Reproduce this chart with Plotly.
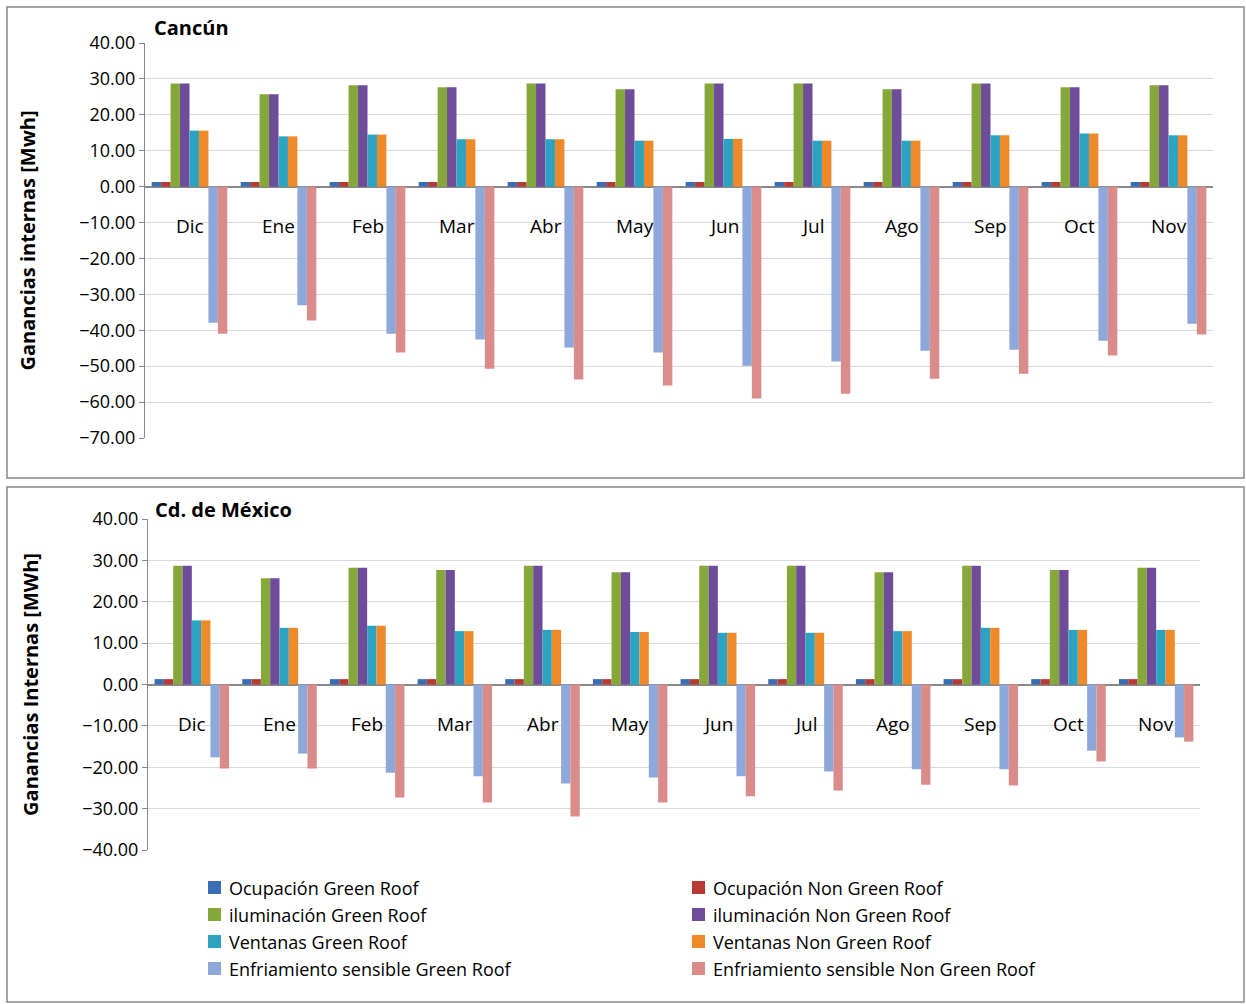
import plotly.graph_objects as go

months = ["Dic","Ene","Feb","Mar","Abr","May","Jun","Jul","Ago","Sep","Oct","Nov"]
series_names = ["Ocupación Green Roof","Ocupación Non Green Roof","iluminación Green Roof","iluminación Non Green Roof",
                "Ventanas Green Roof","Ventanas Non Green Roof","Enfriamiento sensible Green Roof","Enfriamiento sensible Non Green Roof"]
colors = ["#3A6DB5","#B83A35","#86A83A","#6E4C9A","#2CA3C0","#EE8A2A","#8EA8DA","#D98C8A"]

can_ocup = [1.3]*12
can_ilum = [28.7,25.7,28.2,27.7,28.7,27.1,28.7,28.7,27.1,28.7,27.7,28.2]
can_vent = [15.6,14.0,14.5,13.2,13.2,12.8,13.3,12.8,12.8,14.3,14.8,14.3]
can_enf_gr = [-37.9,-33.0,-41.0,-42.6,-44.8,-46.2,-49.9,-48.7,-45.7,-45.4,-42.9,-38.2]
can_enf_ngr = [-41.0,-37.3,-46.2,-50.7,-53.7,-55.4,-59.0,-57.7,-53.5,-52.1,-47.0,-41.2]

mex_ocup = [1.3]*12
mex_ilum = [28.7,25.7,28.2,27.7,28.7,27.1,28.7,28.7,27.1,28.7,27.7,28.2]
mex_vent = [15.5,13.7,14.2,12.9,13.2,12.7,12.5,12.5,12.9,13.7,13.2,13.2]
mex_enf_gr = [-17.6,-16.7,-21.3,-22.2,-23.9,-22.5,-22.2,-21.0,-20.5,-20.5,-16.0,-12.8]
mex_enf_ngr = [-20.3,-20.3,-27.3,-28.5,-31.9,-28.5,-27.0,-25.6,-24.2,-24.4,-18.6,-13.8]

can = [can_ocup,can_ocup,can_ilum,can_ilum,can_vent,can_vent,can_enf_gr,can_enf_ngr]
mex = [mex_ocup,mex_ocup,mex_ilum,mex_ilum,mex_vent,mex_vent,mex_enf_gr,mex_enf_ngr]

fig = go.Figure()
for i,(n,c) in enumerate(zip(series_names,colors)):
    fig.add_trace(go.Bar(x=months,y=can[i],name=n,marker_color=c,marker_line_width=0,
                         xaxis="x",yaxis="y",showlegend=False))
for i,(n,c) in enumerate(zip(series_names,colors)):
    fig.add_trace(go.Bar(x=months,y=mex[i],name=n,marker_color=c,marker_line_width=0,
                         xaxis="x2",yaxis="y2",showlegend=False))

W,H = 1246,1004
font = "Open Sans, Liberation Sans, sans-serif"
axcommon = dict(showgrid=False, showticklabels=False, ticks="", showline=False, zeroline=False, automargin=False)
ycommon = dict(showgrid=True, gridcolor="#D9D9D9", showline=True, linecolor="#888", ticks="outside",
               ticklen=5, tickcolor="#888", zeroline=True, zerolinecolor="#888", zerolinewidth=1.5,
               tickformat=".2f", automargin=False, tickfont=dict(size=18, family=font, color="#000"))
shapes = [
    dict(type="rect", xref="paper", yref="paper", x0=7/W, x1=1244/W, y0=1-478/H, y1=1-7/H,
         line=dict(color="#888", width=1.5)),
    dict(type="rect", xref="paper", yref="paper", x0=7/W, x1=1244/W, y0=1-1002/H, y1=1-487/H,
         line=dict(color="#888", width=1.5)),
]
ann = [dict(text="<b>Cancún</b>", xref="paper", yref="paper", x=152/W, y=1-28/H, xanchor="left",
            yanchor="middle", showarrow=False, font=dict(size=20)),
       dict(text="<b>Cd. de México</b>", xref="paper", yref="paper", x=153/W, y=1-509/H, xanchor="left",
            yanchor="middle", showarrow=False, font=dict(size=20))]
for m in months:
    ann.append(dict(text=m, x=m, y=-11, xref="x", yref="y", showarrow=False, font=dict(size=19)))
    ann.append(dict(text=m, x=m, y=-9.5, xref="x2", yref="y2", showarrow=False, font=dict(size=19)))
for i,(n,c) in enumerate(zip(series_names,colors)):
    col, row = i % 2, i // 2
    lx = 208 if col == 0 else 692
    ly = 888 + row*27
    shapes.append(dict(type="rect", xref="paper", yref="paper", x0=lx/W, x1=(lx+13)/W,
                       y0=1-(ly+6)/H, y1=1-(ly-7)/H, fillcolor=c, line=dict(width=0)))
    ann.append(dict(text=n, xref="paper", yref="paper", x=(lx+19)/W, y=1-ly/H, xanchor="left",
                    yanchor="middle", showarrow=False, font=dict(size=18)))

fig.update_layout(
    width=W, height=H, margin=dict(l=0,r=0,t=0,b=0, autoexpand=False),
    paper_bgcolor="white", plot_bgcolor="white", showlegend=False,
    barmode="group", bargap=0.15, bargroupgap=0,
    font=dict(family=font, color="#000"),
    xaxis=dict(domain=[145/W, 1213/W], anchor="y", **axcommon),
    xaxis2=dict(domain=[148/W, 1200/W], anchor="y2", **axcommon),
    yaxis=dict(domain=[1-438/H, 1-43/H], range=[-70,40], dtick=10, anchor="x",
               title=dict(text="<b>Ganancias internas [Mwh]</b>", font=dict(size=20), standoff=38), **ycommon),
    yaxis2=dict(domain=[1-850/H, 1-519/H], range=[-40,40], dtick=10, anchor="x2",
                title=dict(text="<b>Ganancias Internas [MWh]</b>", font=dict(size=20), standoff=38), **ycommon),
    shapes=shapes, annotations=ann,
)
fig.write_html("out.html", config={"displayModeBar": False},
               post_script="document.body.style.margin='0';document.body.style.overflow='hidden';")
